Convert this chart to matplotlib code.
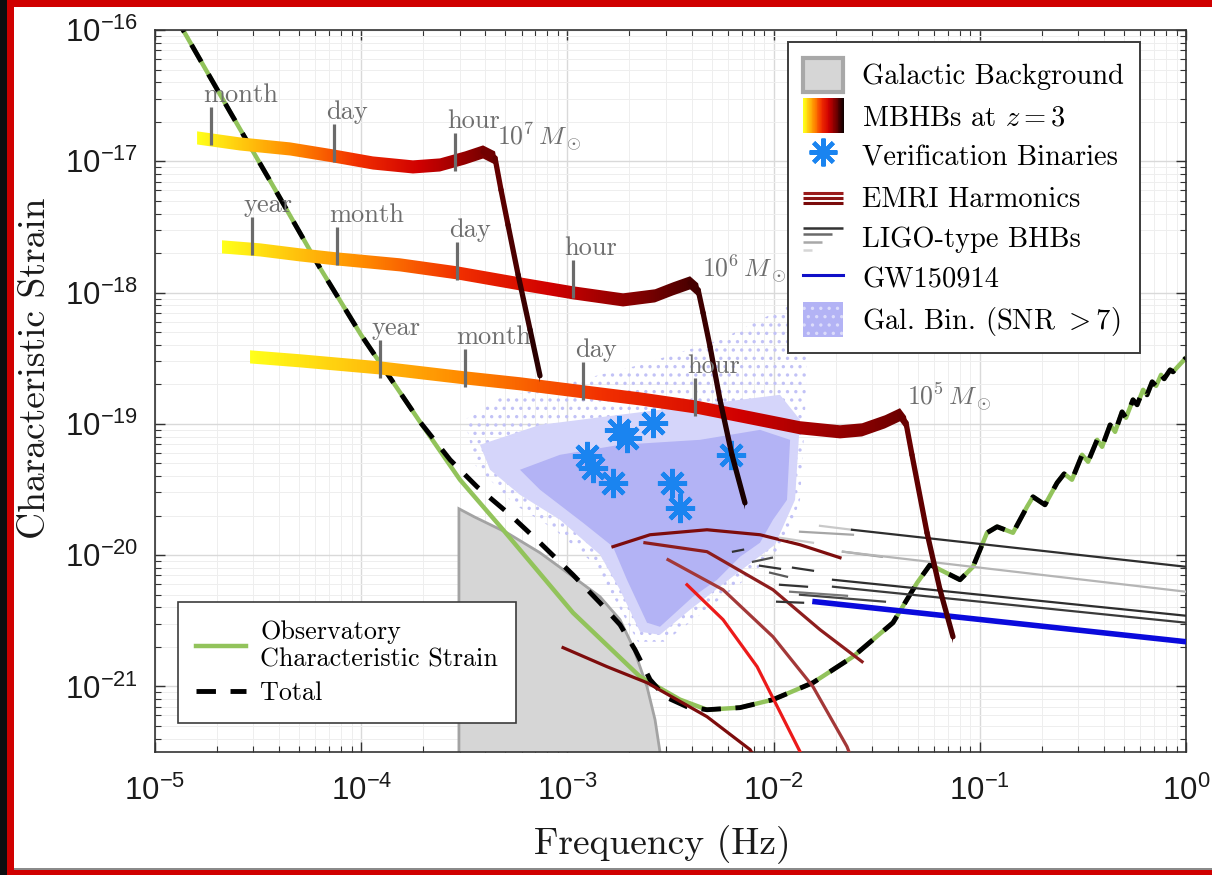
import numpy as np
import matplotlib
matplotlib.use("Agg")
import matplotlib.pyplot as plt
from matplotlib.patches import Polygon, Rectangle, Patch
from matplotlib.lines import Line2D
from matplotlib.collections import LineCollection
from matplotlib.colors import LinearSegmentedColormap
from matplotlib.legend_handler import HandlerBase

plt.rcParams["font.family"] = ["Liberation Sans", "DejaVu Sans"]
plt.rcParams["mathtext.fontset"] = "cm"
plt.rcParams["axes.unicode_minus"] = False
plt.rcParams["hatch.linewidth"] = 1.2

SERIF = "cmr10"

# all values: log10(frequency / Hz) and log10(characteristic strain)

# observatory sensitivity
sens_logf = [-4.903, -4.864, -4.636, -4.408, -4.200, -4.001, -3.715, -3.521, -3.312, -2.973,
             -2.648, -2.454, -2.323, -2.163, -2.003, -1.809, -1.615, -1.421, -1.304, -1.241,
             -1.193, -1.096, -1.033, -0.965, -0.916, -0.839, -0.771, -0.742, -0.684, -0.625,
             -0.591, -0.553, -0.504, -0.475, -0.431, -0.407, -0.368, -0.344, -0.310, -0.291,
             -0.257, -0.237, -0.208, -0.189, -0.164, -0.145, -0.121, -0.106, -0.077, -0.063, 0.0]
sens_logh = [-15.886, -16.0, -16.624, -17.241, -17.812, -18.322, -18.985, -19.426, -19.807, -20.439,
             -20.926, -21.101, -21.178, -21.162, -21.101, -20.972, -20.774, -20.515, -20.211, -20.073,
             -20.111, -20.188, -20.089, -19.830, -19.784, -19.830, -19.632, -19.556, -19.617, -19.449,
             -19.381, -19.426, -19.236, -19.289, -19.122, -19.175, -19.008, -19.061, -18.909, -18.954,
             -18.817, -18.855, -18.741, -18.779, -18.680, -18.711, -18.627, -18.657, -18.589, -18.604, -18.497]

# total (sensitivity + galactic confusion), low-frequency part; joins sensitivity at f = 10^-2.163
total_low_logf = [-4.903, -4.864, -4.636, -4.408, -4.200, -4.001, -3.715, -3.569, -3.438, -3.278,
                  -3.133, -2.973, -2.842, -2.745, -2.672, -2.599, -2.526, -2.420, -2.323]
total_low_logh = [-15.886, -16.0, -16.624, -17.241, -17.812, -18.322, -18.985, -19.274, -19.480, -19.693,
                  -19.906, -20.150, -20.363, -20.530, -20.721, -20.949, -21.079, -21.155, -21.178]
total_logf = total_low_logf + sens_logf[13:]
total_logh = total_low_logh + sens_logh[13:]

# galactic background
galbg_logf = [-3.526, -3.526, -3.450, -3.293, -3.133, -2.973, -2.842, -2.745, -2.682, -2.614, -2.575, -2.551, -2.540]
galbg_logh = [-22.0, -19.647, -19.710, -19.830, -19.982, -20.165, -20.317, -20.492, -20.698, -21.002, -21.254, -21.5, -22.0]

# resolvable galactic binaries cloud: sparse outskirts, medium zone, dense core
galbin_outer_logf = [-3.497, -3.327, -3.036, -2.648, -2.260, -1.920, -1.834, -1.848, -1.872, -1.945,
                     -2.139, -2.357, -2.527, -2.658, -2.769, -2.866, -3.060, -3.254, -3.448]
galbin_outer_logh = [-18.969, -18.802, -18.703, -18.551, -18.360, -18.094, -18.284, -18.969, -19.579, -19.921,
                     -20.188, -20.454, -20.660, -20.660, -20.340, -20.074, -19.807, -19.617, -19.312]
galbin_mid_logf = [-3.424, -3.133, -2.745, -2.357, -1.969, -1.872, -1.896, -1.993, -2.187,
                   -2.405, -2.551, -2.648, -2.745, -2.842, -3.036, -3.230, -3.375]
galbin_mid_logh = [-19.160, -19.008, -18.931, -18.855, -18.779, -18.969, -19.579, -19.921, -20.150,
                   -20.416, -20.607, -20.584, -20.264, -19.997, -19.731, -19.541, -19.350]
galbin_core_logf = [-3.230, -3.036, -2.745, -2.357, -2.066, -1.920, -1.935, -2.003, -2.066,
                    -2.163, -2.274, -2.391, -2.551, -2.614, -2.711, -2.779, -2.924, -3.133]
galbin_core_logh = [-19.350, -19.236, -19.160, -19.122, -19.046, -19.122, -19.579, -19.731, -19.906,
                    -20.013, -20.188, -20.317, -20.546, -20.515, -20.188, -19.936, -19.754, -19.502]

# verification binaries
vb_logf = [-2.905, -2.876, -2.779, -2.750, -2.711, -2.585, -2.493, -2.454, -2.207]
vb_logh = [-19.244, -19.335, -19.449, -19.046, -19.107, -18.992, -19.449, -19.640, -19.236]

# EMRI harmonics
emri_logf = [[-2.779, -2.599, -2.323, -2.066, -1.872, -1.678],
             [-2.624, -2.323, -2.003, -1.775, -1.571],
             [-2.512, -2.245, -2.003, -1.809, -1.644, -1.620],
             [-2.420, -2.245, -2.080, -1.872, -1.857],
             [-3.021, -2.808, -2.614, -2.323, -2.114, -2.100]]
emri_logh = [[-19.936, -19.845, -19.807, -19.845, -19.921, -20.020],
             [-19.906, -19.974, -20.264, -20.568, -20.812],
             [-20.035, -20.264, -20.622, -21.002, -21.459, -21.558],
             [-20.226, -20.492, -20.850, -21.497, -21.558],
             [-20.705, -20.850, -20.972, -21.231, -21.482, -21.520]]
emri_colors = ["#7d0c0c", "#8e1d1d", "#a33838", "#ec1a1a", "#7d0c0c"]

# LIGO-type BHB tracks (start, end)
ligo_logf = [[-1.620, 0.0], [-1.664, 0.0], [-1.712, 0.0], [-1.712, 0.0]]
ligo_logh = [[-19.807, -20.089], [-19.974, -20.279], [-20.188, -20.462], [-20.241, -20.515]]
ligo_colors = ["#2e2e2e", "#b5b5b5", "#2e2e2e", "#3a3a3a"]
ligo_short_logf = [[-1.775, -1.620], [-1.872, -1.615], [-1.969, -1.809], [-2.197, -2.148], [-2.100, -2.008],
                   [-2.066, -1.969], [-2.017, -1.935], [-1.906, -1.809], [-1.664, -1.475], [-1.969, -1.838],
                   [-1.920, -1.644], [-1.872, -1.460], [-1.983, -1.857]]
ligo_short_logh = [[-19.777, -19.807], [-19.822, -19.845], [-19.868, -19.906], [-19.974, -19.959], [-20.051, -20.020],
                   [-20.081, -20.104], [-20.134, -20.165], [-20.096, -20.119], [-19.974, -20.013], [-20.226, -20.241],
                   [-20.279, -20.310], [-20.302, -20.355], [-20.355, -20.363]]
ligo_short_colors = ["#c9c9c9", "#a6a6a6", "#c9c9c9", "#333333", "#4d4d4d", "#333333", "#5a5a5a",
                     "#333333", "#999999", "#333333", "#777777", "#454545", "#333333"]

gw_logf = [-1.799, 0.0]
gw_logh = [-20.355, -20.660]

# MBHB tracks at z = 3
m7_logf = [-4.796, -4.588, -4.345, -4.137, -3.943, -3.749, -3.618, -3.497, -3.409, -3.351,
           -3.322, -3.288, -3.239, -3.181, -3.133]
m7_logh = [-16.822, -16.868, -16.906, -16.959, -17.013, -17.043, -17.028, -16.975, -16.929, -16.975,
           -17.218, -17.485, -17.865, -18.284, -18.634]
m6_logf = [-4.675, -4.491, -4.297, -4.117, -3.812, -3.535, -3.230, -2.973, -2.730, -2.575,
           -2.488, -2.405, -2.366, -2.342, -2.308, -2.260, -2.202, -2.139]
m6_logh = [-17.652, -17.675, -17.713, -17.744, -17.789, -17.850, -17.934, -18.002, -18.056, -18.025,
           -17.972, -17.926, -17.980, -18.155, -18.414, -18.817, -19.236, -19.602]
m5_logf = [-4.539, -4.297, -3.909, -3.497, -3.230, -2.924, -2.648, -2.381, -2.114, -1.872,
           -1.678, -1.571, -1.460, -1.387, -1.358, -1.329, -1.256, -1.193, -1.130]
m5_logh = [-18.490, -18.520, -18.574, -18.650, -18.695, -18.756, -18.810, -18.871, -18.954, -19.030,
           -19.061, -19.046, -18.985, -18.931, -18.992, -19.236, -19.830, -20.264, -20.622]

# time-to-merger markers on each track (marker foot)
m7_marks = ["month", "day", "hour"]
m7_mark_logf = [-4.728, -4.132, -3.545]
m7_mark_logh = [-16.876, -17.005, -17.074]
m6_marks = ["year", "month", "day", "hour"]
m6_mark_logf = [-4.530, -4.117, -3.535, -2.973]
m6_mark_logh = [-17.713, -17.789, -17.904, -18.041]
m5_marks = ["year", "month", "day", "hour"]
m5_mark_logf = [-3.909, -3.497, -2.924, -2.381]
m5_mark_logh = [-18.650, -18.718, -18.817, -18.939]

mass_labels = [r"$10^7\,M_\odot$", r"$10^6\,M_\odot$", r"$10^5\,M_\odot$"]
mass_logf = [-3.341, -2.347, -1.353]
mass_logh = [-16.876, -17.881, -18.855]

mbhb_cmap = LinearSegmentedColormap.from_list(
    "mbhb", [(0.0, "#ffff1a"), (0.27, "#ff8a00"), (0.45, "#f23000"),
             (0.63, "#d00000"), (0.8, "#800000"), (1.0, "#120000")])


def L(a):
    return 10 ** np.asarray(a, dtype=float)


class GradientHandler(HandlerBase):
    def __init__(self, cmap, n=48):
        super().__init__()
        self.cmap = cmap
        self.n = n

    def create_artists(self, legend, orig_handle, xdescent, ydescent, width, height, fontsize, trans):
        arts = []
        for i in range(self.n):
            x0 = -xdescent + width * i / self.n
            arts.append(Rectangle((x0, -ydescent), width / self.n * 1.15, height,
                                  facecolor=self.cmap(i / (self.n - 1)), edgecolor="none", transform=trans))
        return arts


class StackHandler(HandlerBase):
    def __init__(self, rows):
        super().__init__()
        self.rows = rows

    def create_artists(self, legend, orig_handle, xdescent, ydescent, width, height, fontsize, trans):
        arts = []
        for c, frac, yf, lw in self.rows:
            y = -ydescent + height * yf
            arts.append(Line2D([-xdescent, -xdescent + width * frac], [y, y], color=c, lw=lw,
                               solid_capstyle="butt", transform=trans))
        return arts


fig = plt.figure(figsize=(12.12, 8.75), dpi=100)
rect = [155 / 1212, 1 - 752 / 875, 1031 / 1212, 722 / 875]
ax = fig.add_axes(rect)

ax.fill(L(galbin_outer_logf), L(galbin_outer_logh), facecolor="none", edgecolor="#c2c2f6",
        hatch="..", lw=0, zorder=1)
ax.fill(L(galbin_mid_logf), L(galbin_mid_logh), color="#d5d5fa", lw=0, zorder=1.1)
ax.fill(L(galbin_core_logf), L(galbin_core_logh), color="#b3b3f5", lw=0, zorder=1.2)
ax.fill(L(galbg_logf), L(galbg_logh), facecolor="#d6d6d6", edgecolor="#a3a3a3", lw=2, zorder=1.5)

ax.plot(L(sens_logf), L(sens_logh), color="#92c35b", lw=3.2, zorder=2)
ax.plot(L(total_logf), L(total_logh), color="black", lw=3.5, dashes=(4, 3), zorder=2.1)

for f, h, c in zip(emri_logf, emri_logh, emri_colors):
    ax.plot(L(f), L(h), color=c, lw=2.3, zorder=3)
for f, h, c in zip(ligo_short_logf, ligo_short_logh, ligo_short_colors):
    ax.plot(L(f), L(h), color=c, lw=1.6, zorder=3)
for f, h, c in zip(ligo_logf, ligo_logh, ligo_colors):
    ax.plot(L(f), L(h), color=c, lw=1.6, zorder=3.1)
ax.plot(L(gw_logf), L(gw_logh), color="#0a0adc", lw=4, zorder=3.2)

ax.plot(L(vb_logf), L(vb_logh), ls="none", marker=(8, 2, 0), ms=21, mew=3.2,
        color="#1a84f0", zorder=4)

ax.set_xscale("log")
ax.set_yscale("log")
ax.set_xlim(1e-5, 1)
ax.set_ylim(10 ** -21.5, 1e-16)
ax.grid(True, which="major", color="#d9d9d9", lw=1.0)
ax.grid(True, which="minor", color="#eeeeee", lw=0.7)
ax.set_axisbelow(True)
ax.tick_params(which="both", direction="in", top=True, right=True, color="#333333")
ax.tick_params(which="major", length=7, width=1, labelsize=22.5, labelcolor="#1a1a1a")
ax.tick_params(axis="x", which="major", pad=17)
ax.tick_params(axis="y", which="major", pad=12)
ax.tick_params(which="minor", length=4, width=0.8)
for s in ax.spines.values():
    s.set_color("#333333")
    s.set_linewidth(1.2)

ax.set_xlabel("Frequency (Hz)", fontfamily=SERIF, fontsize=27, color="#1a1a1a")
ax.xaxis.set_label_coords(0.4918, -0.101)
ax.set_ylabel("Characteristic Strain", fontfamily=SERIF, fontsize=27, color="#1a1a1a")
ax.yaxis.set_label_coords(-0.100, 0.532)

# legends
h_gb = Patch(facecolor="#d6d6d6", edgecolor="#a8a8a8", lw=3)
h_mb = Patch()
h_vb = Line2D([], [], ls="none", marker=(8, 2, 0), ms=20, mew=3, color="#1a84f0")
h_emri = Patch()
h_ligo = Patch()
h_gw = Line2D([], [], color="#1010c8", lw=2.2)
h_gal = Patch(facecolor="#b3b3f5", edgecolor="#dcdcfb", hatch="..", lw=0)
leg1 = ax.legend(
    handles=[h_gb, h_mb, h_vb, h_emri, h_ligo, h_gw, h_gal],
    labels=["Galactic Background", r"MBHBs at $z = 3$", "Verification Binaries", "EMRI Harmonics",
            "LIGO-type BHBs", "GW150914", r"Gal. Bin. (SNR $> 7$)"],
    loc="upper right", bbox_to_anchor=(0.9554, 0.9834), borderaxespad=0,
    prop={"family": SERIF, "size": 20.5}, handlelength=1.41, handleheight=1.5,
    handletextpad=0.67, labelspacing=0.21, borderpad=0.55, fancybox=False,
    edgecolor="#3c3c3c", framealpha=1,
    handler_map={
        h_mb: GradientHandler(mbhb_cmap),
        h_emri: StackHandler([("#9b1c1c", 1.0, 0.62, 2.2), ("#8b1515", 1.0, 0.47, 2.2),
                              ("#7a0a0a", 1.0, 0.32, 2.2)]),
        h_ligo: StackHandler([("#333333", 1.0, 0.79, 1.8), ("#6a6a6a", 0.72, 0.60, 1.8),
                              ("#a8a8a8", 0.47, 0.37, 1.8), ("#d6d6d6", 0.22, 0.15, 1.8)]),
    })
leg1.get_frame().set_linewidth(1.4)
ax.add_artist(leg1)

leg2 = ax.legend(
    handles=[Line2D([], [], color="#92c35b", lw=3.2),
             Line2D([], [], color="black", lw=3.5, dashes=(4, 3))],
    labels=["Observatory\nCharacteristic Strain", "Total"],
    loc="lower left", bbox_to_anchor=(0.0223, 0.040), borderaxespad=0,
    prop={"family": SERIF, "size": 18.8}, handlelength=1.9, handletextpad=0.55,
    labelspacing=0.38, borderpad=0.7, fancybox=False, edgecolor="#3c3c3c", framealpha=1)
leg2.get_frame().set_linewidth(1.2)

# overlay in log10 units for the gradient MBHB tracks
top = fig.add_axes(rect)
top.patch.set_visible(False)
top.set_xticks([])
top.set_yticks([])
for s in top.spines.values():
    s.set_visible(False)
top.axis("off")
top.set_navigate(False)

tracks = [(m5_logf, m5_logh, 13, 0.9), (m6_logf, m6_logh, 11, 1.0), (m7_logf, m7_logh, 8, 0.97)]
half = 0.05
for lf, lh, k, c1 in tracks:
    x0, x1 = lf[0], lf[-1]
    grad = np.linspace(0.0, c1, 512)[None, :]
    im = top.imshow(grad, cmap=mbhb_cmap, vmin=0, vmax=1,
                    extent=(x0, x1, min(lh) - 0.3, max(lh) + 0.3),
                    origin="lower", aspect="auto", interpolation="bilinear", zorder=2)
    verts = [(f, h + half) for f, h in zip(lf, lh)] + [(f, h - half) for f, h in zip(lf[::-1], lh[::-1])]
    im.set_clip_path(Polygon(verts, closed=True, transform=top.transData))
    segs = [[(lf[i], lh[i]), (lf[i + 1], lh[i + 1])] for i in range(k, len(lf) - 1)]
    cols = [mbhb_cmap(c1 * ((lf[i] + lf[i + 1]) / 2 - x0) / (x1 - x0)) for i in range(k, len(lf) - 1)]
    top.add_collection(LineCollection(segs, colors=cols, linewidths=3.8, capstyle="round", zorder=3))

for names, mf, mh in [(m7_marks, m7_mark_logf, m7_mark_logh),
                      (m6_marks, m6_mark_logf, m6_mark_logh),
                      (m5_marks, m5_mark_logf, m5_mark_logh)]:
    for name, f, h in zip(names, mf, mh):
        top.plot([f, f], [h, h + 0.29], color="#6b6b6b", lw=2.3, solid_capstyle="butt", zorder=4)
        top.annotate(name, xy=(f, h + 0.29), xytext=(-6, 3.5), textcoords="offset points",
                     fontfamily=SERIF, fontsize=19, color="#6e6e6e", ha="left", va="baseline", zorder=5)

for txt, f, h in zip(mass_labels, mass_logf, mass_logh):
    top.text(f, h, txt, fontfamily=SERIF, fontsize=18.5, color="#6e6e6e", ha="left", va="baseline", zorder=5)

top.set_xlim(-5, 0)
top.set_ylim(-21.5, -16)

# frame around the figure
W, H = 1212.0, 875.0
fig.add_artist(Rectangle((0, 0), 7 / W, 1, transform=fig.transFigure,
                         facecolor="#0e0e10", edgecolor="none", zorder=20))
fig.add_artist(Rectangle((7 / W, 0), 7 / W, 1, transform=fig.transFigure,
                         facecolor="#d00000", edgecolor="none", zorder=20))
fig.add_artist(Rectangle((7 / W, 1 - 7 / H), 1 - 7 / W, 7 / H, transform=fig.transFigure,
                         facecolor="#d00000", edgecolor="none", zorder=20))
fig.add_artist(Rectangle((7 / W, 0), 1 - 7 / W, 5 / H, transform=fig.transFigure,
                         facecolor="#d00000", edgecolor="none", zorder=20))
fig.add_artist(Rectangle((14 / W, 5 / H), 1 - 14 / W, 2 / H, transform=fig.transFigure,
                         facecolor="#8a8a8a", edgecolor="none", zorder=20))

fig.savefig("out.png", dpi=100, facecolor="white")
